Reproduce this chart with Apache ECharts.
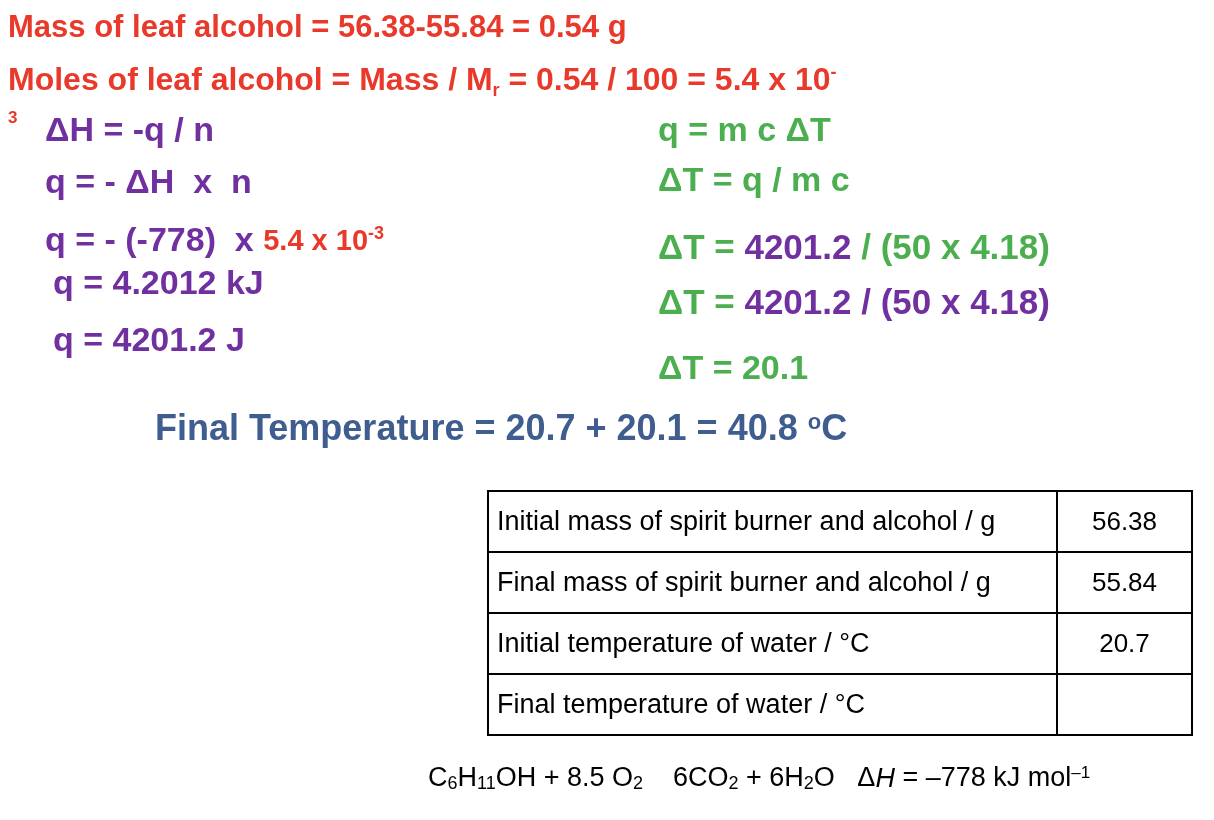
<!DOCTYPE html>
<html><head><meta charset="utf-8">
<script src="https://cdn.jsdelivr.net/npm/echarts@6/dist/echarts.min.js"></script>
<style>html,body{margin:0;padding:0;background:#fff}#c{width:1214px;height:820px}</style>
</head><body><div id="c"></div>
<script>
const rowLabels = ["Initial mass of spirit burner and alcohol / g","Final mass of spirit burner and alcohol / g","Initial temperature of water / °C","Final temperature of water / °C"];
const rowValues = ["56.38","55.84","20.7",""];
const RED='#e8392b', PUR='#7030a0', GRN='#4bae4f', BLU='#3f5d8e';
const F='"Liberation Sans", Arial, sans-serif';
function txt(x,cy,text,color,size,rich,weight){
  return {type:'text',left:x,top:cy-size/2,style:{text:text,fill:color,font:(weight||'bold')+' '+size+'px '+F,rich:rich||{}}};
}
const g=[];
g.push(txt(8,28,'Mass of leaf alcohol = 56.38-55.84 = 0.54 g',RED,31));
g.push(txt(8,80,'Moles of leaf alcohol = Mass / M{s|r} = 0.54 / 100 = 5.4 x 10{u|-}',RED,32,{s:{fill:RED,font:'bold 18px '+F,padding:[20,0,0,0]},u:{fill:RED,font:'bold 18px '+F,padding:[0,0,16,0]}}));
g.push(txt(8,118,'3',RED,17));
g.push(txt(45,132,'ΔH = -q / n',PUR,34));
g.push(txt(45,184,'q = - ΔH  x  n',PUR,34));
g.push(txt(45,242,'q = - (-778)  x {r|5.4 x 10}{sp|-3}',PUR,34,{r:{fill:RED,font:'bold 29px '+F},sp:{fill:RED,font:'bold 18px '+F,padding:[0,0,16,0]}}));
g.push(txt(53,285,'q = 4.2012 kJ',PUR,34));
g.push(txt(53,342,'q = 4201.2 J',PUR,34));
g.push(txt(658,132,'q = m c ΔT',GRN,34));
g.push(txt(658,182,'ΔT = q / m c',GRN,34));
g.push(txt(658,249,'ΔT = {p|4201.2} / (50 x 4.18)',GRN,35,{p:{fill:PUR,font:'bold 35px '+F}}));
g.push(txt(658,304,'ΔT = {p|4201.2 / (50 x 4.18)}',GRN,35,{p:{fill:PUR,font:'bold 35px '+F}}));
g.push(txt(658,370,'ΔT = 20.1',GRN,34));
g.push(txt(155,430,'Final Temperature = 20.7 + 20.1 = 40.8 {s|o}C',BLU,36,{s:{fill:BLU,font:'bold 22px '+F,padding:[0,0,14,0]}}));
// table
const x0=488,x1=1057,x2=1192,y0=491,rh=61;
g.push({type:'rect',shape:{x:x0,y:y0,width:x2-x0,height:rh*rowLabels.length},style:{fill:'none',stroke:'#000',lineWidth:2}});
g.push({type:'line',shape:{x1:x1,y1:y0,x2:x1,y2:y0+rh*rowLabels.length},style:{stroke:'#000',lineWidth:2}});
rowLabels.forEach((l,i)=>{
  if(i>0) g.push({type:'line',shape:{x1:x0,y1:y0+rh*i,x2:x2,y2:y0+rh*i},style:{stroke:'#000',lineWidth:2}});
  g.push({type:'text',x:497,y:y0+rh*i+rh/2+1,style:{text:l,fill:'#000',font:'27px '+F,verticalAlign:'middle'}});
  g.push({type:'text',x:(x1+x2)/2,y:y0+rh*i+rh/2+1,style:{text:rowValues[i],fill:'#000',font:'26px '+F,align:'center',verticalAlign:'middle'}});
});
g.push(txt(428,778,'C{s|6}H{s|11}OH + 8.5 O{s|2}    6CO{s|2} + 6H{s|2}O   Δ{i|H} = –778 kJ mol{u|–1}','#000',27,
  {s:{fill:'#000',font:'18px '+F,padding:[10,0,0,0]},i:{fill:'#000',font:'italic 27px '+F},u:{fill:'#000',font:'17px '+F,padding:[0,0,12,0]}},'normal'));
const ch=echarts.init(document.getElementById('c'));
ch.setOption({animation:false,graphic:g});
</script></body></html>
